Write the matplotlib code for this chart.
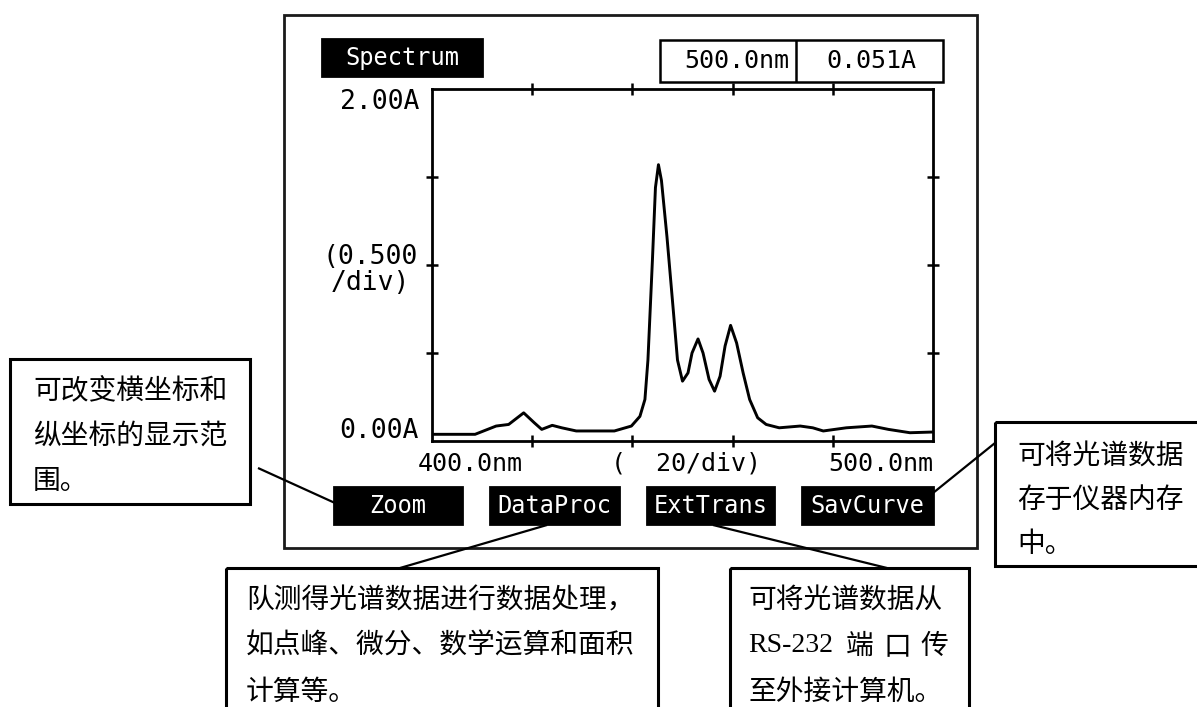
import matplotlib
matplotlib.use("Agg")
import matplotlib.pyplot as plt
from matplotlib.patches import Rectangle

# absorbance spectrum
wavelength = [400.0, 408.6, 412.8, 415.3, 418.3, 420.4, 421.9, 424.0, 425.9, 428.8,
              436.4, 439.8, 441.5, 442.5, 443.1, 444.0, 444.6, 445.2, 445.8, 446.9,
              448.2, 449.0, 450.0, 451.1, 451.9, 453.1, 454.1, 455.3, 456.4, 457.5,
              458.5, 459.6, 460.8, 462.1, 463.4, 465.0, 466.7, 469.3, 473.5, 476.0,
              478.1, 482.7, 487.8, 491.1, 495.4, 500.0]
absorbance = [0.038, 0.038, 0.085, 0.094, 0.160, 0.104, 0.066, 0.089, 0.075, 0.057,
              0.057, 0.085, 0.140, 0.236, 0.460, 1.030, 1.440, 1.570, 1.480, 1.160,
              0.730, 0.460, 0.340, 0.387, 0.500, 0.580, 0.500, 0.350, 0.283, 0.368,
              0.540, 0.657, 0.557, 0.387, 0.236, 0.132, 0.094, 0.075, 0.085, 0.075,
              0.057, 0.075, 0.085, 0.066, 0.047, 0.051]

cursor_wl = 500.0
cursor_abs = 0.051
x_range = (400.0, 500.0)
x_step = 20
y_range = (0.0, 2.0)
y_step = 0.5

buttons = ["Zoom", "DataProc", "ExtTrans", "SavCurve"]

note_zoom = ["可改变横坐标和", "纵坐标的显示范", "围。"]
note_proc = ["队测得光谱数据进行数据处理，", "如点峰、微分、数学运算和面积", "计算等。"]
note_trans = ["可将光谱数据从", None, "至外接计算机。"]
note_save = ["可将光谱数据", "存于仪器内存", "中。"]

W, H = 1197, 707
MONO = "DejaVu Sans Mono"
CJK = ["Noto Sans CJK SC", "DejaVu Sans"]
SERIF = ["Liberation Serif", "Noto Sans CJK SC"]

fig = plt.figure(figsize=(W / 100, H / 100), dpi=100)
fig.patch.set_facecolor("white")

# pixel-space canvas for the screen frame, buttons and callouts
cv = fig.add_axes([0, 0, 1, 1])
cv.set_xlim(0, W)
cv.set_ylim(H, 0)
cv.axis("off")

def box(x0, y0, x1, y1, fill=False, lw=2.0, color="black", z=2):
    cv.add_patch(Rectangle((x0, y0), x1 - x0, y1 - y0, fill=fill,
                           facecolor=color if fill else "none",
                           edgecolor=color, lw=lw, zorder=z))

def line(x0, y0, x1, y1, lw=1.6):
    cv.plot([x0, x1], [y0, y1], color="black", lw=lw, zorder=3,
            solid_capstyle="butt")

# screen frame
box(284, 15, 977, 548, lw=2.0, color="#1a1a1a")

# title tag and cursor readout
box(322, 39, 482, 76, fill=True)
cv.text(402, 58, "Spectrum", color="white", fontsize=17, family=MONO,
        ha="center", va="center", zorder=4)
box(660, 40, 943, 82, lw=1.8)
line(796, 40, 796, 82, lw=1.8)
cv.text(789, 61, f"{cursor_wl:.1f}nm", fontsize=18, family=MONO,
        ha="right", va="center")
cv.text(871, 61, f"{cursor_abs:.3f}A", fontsize=18, family=MONO,
        ha="center", va="center")

# y-axis labels
cv.text(419, 102, f"{y_range[1]:.2f}A", fontsize=19, family=MONO,
        ha="right", va="center")
cv.text(370, 270, f"({y_step:.3f}\n/div)", fontsize=19, family=MONO,
        ha="center", va="center", linespacing=1.0)
cv.text(419, 431, f"{y_range[0]:.2f}A", fontsize=19, family=MONO,
        ha="right", va="center")

# x-axis labels
cv.text(470, 464, f"{x_range[0]:.1f}nm", fontsize=18, family=MONO,
        ha="center", va="center")
cv.text(686, 464, f"(  {x_step}/div)", fontsize=18, family=MONO,
        ha="center", va="center")
cv.text(933, 464, f"{x_range[1]:.1f}nm", fontsize=18, family=MONO,
        ha="right", va="center")

# soft-key buttons
btn_x = [(334, 462), (490, 619), (647, 774), (802, 933)]
for (bx0, bx1), name in zip(btn_x, buttons):
    box(bx0, 487, bx1, 524, fill=True)
    cv.text((bx0 + bx1) / 2, 506, name, color="white", fontsize=17,
            family=MONO, ha="center", va="center", zorder=4)

# callout boxes
def note(x0, y0, x1, y1, lines, tx, ty0, step=45):
    box(x0, y0, x1, y1, lw=2.2)
    for i, s in enumerate(lines):
        if s:
            cv.text(tx, ty0 + i * step, s, fontsize=20, family=CJK,
                    ha="left", va="center", zorder=4)

note(10, 359, 250, 504, note_zoom, 33, 391)
note(226, 568, 658, 720, note_proc, 246, 600, step=46)
note(730, 568, 969, 720, note_trans, 748, 600, step=46)
note(995, 422, 1210, 566, note_save, 1017, 456, step=44)

# second line of the ExtTrans note, spaced out to the box width
cv.text(748, 646, "RS-232", fontsize=20, family=SERIF, ha="left", va="center")
for cx, ch in zip([860, 897, 934], ["端", "口", "传"]):
    cv.text(cx, 646, ch, fontsize=20, family=CJK, ha="center", va="center")

# leader lines
line(258, 468, 335, 503)
line(547, 525, 400, 568)
line(713, 525, 887, 568)
line(933, 493, 995, 443)

# spectrum plot
px0, py0, px1, py1 = 432, 89, 933, 441
ax = fig.add_axes([px0 / W, 1 - py1 / H, (px1 - px0) / W, (py1 - py0) / H])
ax.set_facecolor("none")
ax.plot(wavelength, absorbance, color="black", lw=2.1)
ax.set_xlim(*x_range)
ax.set_ylim(*y_range)
ax.set_xticks([420, 440, 460, 480])
ax.set_yticks([0.5, 1.0, 1.5])
ax.tick_params(which="both", direction="inout", length=9, width=1.8,
               top=True, right=True, labelbottom=False, labelleft=False)
for sp in ax.spines.values():
    sp.set_linewidth(2.0)

plt.savefig("out.png", dpi=100)
